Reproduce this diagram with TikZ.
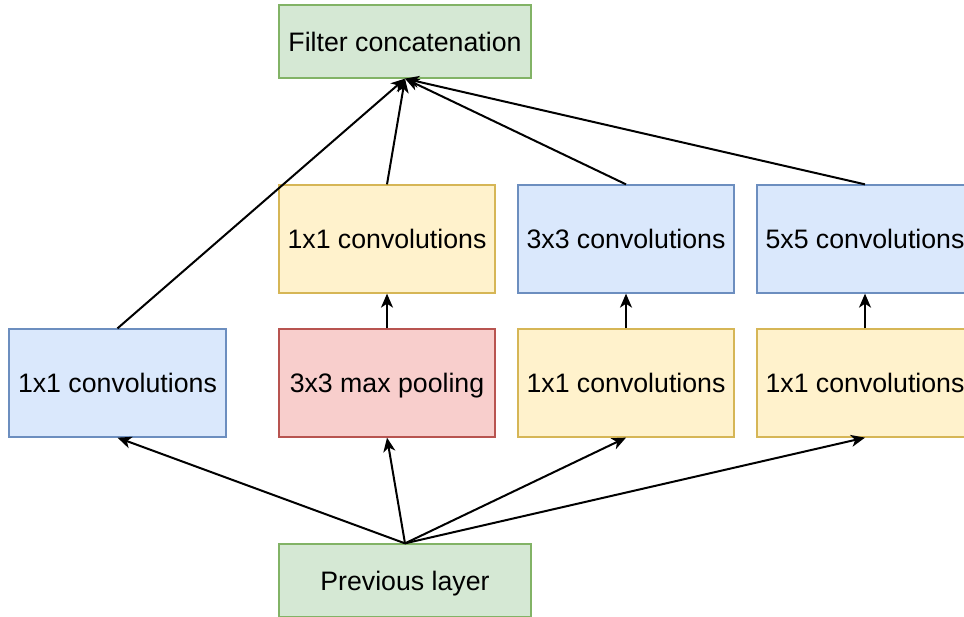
\documentclass[tikz,border=0pt]{standalone}
\usepackage{fontspec}
\setmainfont{Liberation Sans}
\usetikzlibrary{arrows.meta}

\definecolor{greenfill}{HTML}{D5E8D4}
\definecolor{greenline}{HTML}{82B366}
\definecolor{bluefill}{HTML}{DAE8FC}
\definecolor{blueline}{HTML}{6C8EBF}
\definecolor{yellowfill}{HTML}{FFF2CC}
\definecolor{yellowline}{HTML}{D6B656}
\definecolor{redfill}{HTML}{F8CECC}
\definecolor{redline}{HTML}{B85450}

\tikzset{
  box/.style={draw, line width=1.3pt, inner sep=0pt, align=center,
    text height=19.5pt, text depth=0pt,
    minimum width=216pt, minimum height=108pt,
    font=\fontsize{26.7}{32}\selectfont},
  greenbox/.style={box, fill=greenfill, draw=greenline,
    minimum width=252pt, minimum height=73pt},
  bluebox/.style={box, fill=bluefill, draw=blueline},
  yellowbox/.style={box, fill=yellowfill, draw=yellowline},
  redbox/.style={box, fill=redfill, draw=redline},
  arr/.style={line width=2pt, -{Stealth[length=14pt, width=12pt, inset=4pt]}}
}

\begin{document}
\begin{tikzpicture}[x=1pt, y=-1pt]
  \useasboundingbox (0,0) rectangle (964,616);

  % output and input layers
  \node[greenbox] (fc)   at (405,41.5)  {Filter concatenation};
  \node[greenbox] (prev) at (405,580.5) {Previous layer};

  % lower row
  \node[bluebox, minimum width=217pt] (c1)   at (117.5,383) {1x1 convolutions};
  \node[redbox]    (pool) at (387,383) {3x3 max pooling};
  \node[yellowbox] (r3)   at (626,383) {1x1 convolutions};
  \node[yellowbox] (r5)   at (865,383) {1x1 convolutions};

  % upper row
  \node[yellowbox] (pp)   at (387,239) {1x1 convolutions};
  \node[bluebox]   (c3)   at (626,239) {3x3 convolutions};
  \node[bluebox]   (c5)   at (865,239) {5x5 convolutions};

  % from the previous layer into the branches
  \draw[arr] (prev.north) -- (c1.south);
  \draw[arr] (prev.north) -- (pool.south);
  \draw[arr] (prev.north) -- (r3.south);
  \draw[arr] (prev.north) -- (r5.south);

  % inside the branches
  \draw[arr] (pool.north) -- (pp.south);
  \draw[arr] (r3.north) -- (c3.south);
  \draw[arr] (r5.north) -- (c5.south);

  % into the concatenation
  \draw[arr] (c1.north) -- (fc.south);
  \draw[arr] (pp.north) -- (fc.south);
  \draw[arr] (c3.north) -- (fc.south);
  \draw[arr] (c5.north) -- (fc.south);
\end{tikzpicture}
\end{document}
